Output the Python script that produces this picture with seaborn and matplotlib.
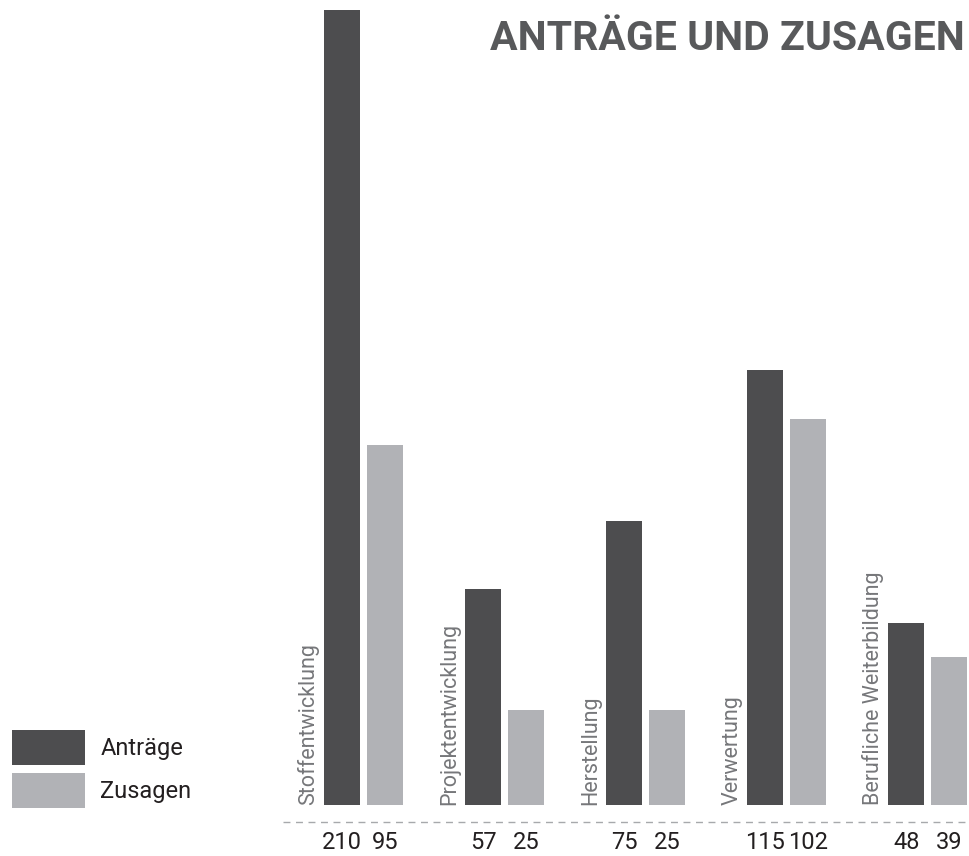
import pandas as pd
import matplotlib.pyplot as plt
import seaborn as sns

# values
categories = ['Stoffentwicklung', 'Projektentwicklung', 'Herstellung', 'Verwertung', 'Berufliche Weiterbildung']
antraege = [210, 57, 75, 115, 48]
zusagen = [95, 25, 25, 102, 39]
series = ['Anträge', 'Zusagen']

dark = '#4d4d4f'
light = '#b1b2b6'

df = pd.DataFrame({
    'Kategorie': categories * 2,
    'Typ': [series[0]] * len(categories) + [series[1]] * len(categories),
    'Anzahl': antraege + zusagen,
})

sns.set_style('white')
plt.rcParams['font.family'] = ['Roboto', 'DejaVu Sans']

fig = plt.figure(figsize=(9.69, 8.56), dpi=100)
ax = fig.add_axes([0, 0, 1, 1])

sns.barplot(data=df, x='Kategorie', y='Anzahl', hue='Typ', order=categories,
            palette=[dark, light], width=0.61, gap=0.163, ax=ax, saturation=1,
            linewidth=0)

ax.set_xlim(-2.576, 4.291)
ax.set_ylim(-13.47, 212.64)
ax.set_axis_off()

# category labels, rotated at left of each group
for i, cat in enumerate(categories):
    ax.text(i - 0.39, 0, cat, rotation=90, ha='center', va='bottom',
            fontsize=15.5, color='#76777a', fontweight='normal')

# dashed baseline
ax.plot([-0.574, 4.291], [-4.5, -4.5], color='#a7a9ac', lw=1, ls=(0, (5, 4)))

# value labels under bars
for bars in ax.containers:
    for b in bars:
        ax.text(b.get_x() + b.get_width() / 2, -10.0, f'{b.get_height():.0f}',
                ha='center', va='center', fontsize=17, color='#231f20')

# legend
handles, labels = ax.get_legend_handles_labels()
leg = ax.legend(handles, labels, loc='lower left', bbox_to_anchor=(12 / 969, 48 / 856),
                bbox_transform=fig.transFigure, frameon=False, fontsize=17, borderpad=0,
                handlelength=3.1, handleheight=1.9, labelspacing=0.34, handletextpad=0.64,
                borderaxespad=0)
for t in leg.get_texts():
    t.set_color('#231f20')

fig.text(965 / 969, 1 - 39 / 856, 'ANTRÄGE UND ZUSAGEN', ha='right', va='center',
         fontsize=29.5, fontweight='bold', color='#58595b')

fig.savefig('out.png', dpi=100)
